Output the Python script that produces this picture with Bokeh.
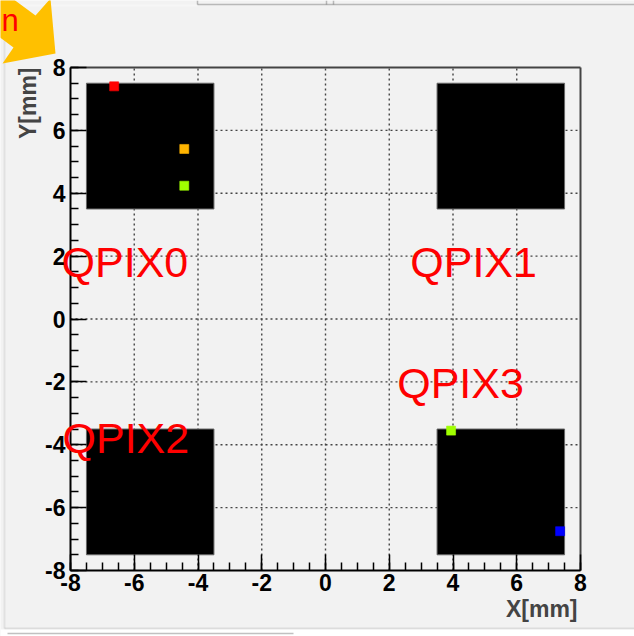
from bokeh.plotting import figure
from bokeh.models import Label, PolyAnnotation, FixedTicker, Range1d
from bokeh.embed import file_html
from bokeh.resources import INLINE
import math

# ---- data ----
pixel_names = ["QPIX0", "QPIX1", "QPIX2", "QPIX3"]
box_left = [-7.5, 3.5, -7.5, 3.5]
box_right = [-3.5, 7.5, -3.5, 7.5]
box_bottom = [3.5, 3.5, -7.5, -7.5]
box_top = [7.5, 7.5, -3.5, -3.5]

label_x = [-8.28, 2.66, -8.25, 2.25]
label_y = [1.80, 1.80, -3.77, -2.05]

hit_x = [-6.63, -4.43, -4.43, 3.94, 7.36]
hit_y = [7.40, 5.41, 4.24, -3.55, -6.75]
hit_color = ["#ff0000", "#ffb400", "#a0ff00", "#a0ff00", "#0000ff"]

ticks = [-8, -6, -4, -2, 0, 2, 4, 6, 8]
tick_labels = ["-8", "-6", "-4", "-2", "0", "2", "4", "6", "8"]
grid_pos = [-6, -4, -2, 0, 2, 4, 6]

# ---- layout: frame covers whole canvas, axes pinned at -8 ----
W, H = 634, 636
FL, FR, FT, FB = 70, 580, 67, 570

def px2x(px):
    return (px - FL) / (FR - FL) * 16 - 8

def py2y(py):
    return 8 - (py - FT) / (FB - FT) * 16

p = figure(width=W, height=H, output_backend="svg", toolbar_location=None,
           x_range=Range1d(px2x(0), px2x(W)), y_range=Range1d(py2y(H), py2y(0)),
           min_border=0)
p.background_fill_color = "#f2f2f2"
p.border_fill_color = "#f2f2f2"
p.outline_line_color = None
p.xgrid.visible = False
p.ygrid.visible = False

for ax in (p.xaxis[0], p.yaxis[0]):
    ax.fixed_location = -8
    ax.bounds = (-8, 8)
    ax.ticker = FixedTicker(ticks=ticks, minor_ticks=[t / 2 for t in range(-16, 17)])
    ax.major_label_overrides = {t: s for t, s in zip(ticks, tick_labels)}
    ax.major_tick_in = 16
    ax.major_tick_out = 0
    ax.minor_tick_in = 8
    ax.minor_tick_out = 0
    ax.major_tick_line_color = "black"
    ax.minor_tick_line_color = "black"
    ax.major_tick_line_width = 1.5
    ax.minor_tick_line_width = 1.5
    ax.axis_line_color = "black"
    ax.axis_line_width = 2
    ax.major_label_text_font = "Liberation Sans"
    ax.major_label_text_font_style = "bold"
    ax.major_label_text_font_size = "23px"
    ax.major_label_text_color = "black"
p.xaxis.major_label_standoff = 3
p.yaxis.major_label_standoff = 5
p.yaxis.major_label_orientation = "horizontal"

# grid (dotted) inside the frame
n = len(grid_pos)
p.segment(x0=grid_pos, y0=[-8] * n, x1=grid_pos, y1=[8] * n,
          line_color="#444444", line_width=1.4, line_dash="2 3")
p.segment(x0=[-8] * n, y0=grid_pos, x1=[8] * n, y1=grid_pos,
          line_color="#444444", line_width=1.4, line_dash="2 3")

# frame top / right
p.segment(x0=[-8, 8], y0=[8, -8], x1=[8, 8], y1=[8, 8],
          line_color="#444444", line_width=2)

# pixel boxes
p.quad(left=box_left, right=box_right, bottom=box_bottom, top=box_top,
       fill_color="black", line_color="#666666", line_width=1)

# hits
p.scatter(hit_x, hit_y, marker="square", size=9, fill_color=hit_color,
          line_color=hit_color, line_alpha=0.6)

# labels
for name, lx, ly in zip(pixel_names, label_x, label_y):
    p.add_layout(Label(x=lx, y=ly, text=name, text_color="#ff0000",
                       text_font="Liberation Sans", text_font_size="43px",
                       text_align="left", text_baseline="alphabetic"))

# axis titles
p.add_layout(Label(x=px2x(577), y=py2y(608), text="X[mm]",
                   text_font="Liberation Sans", text_font_style="bold",
                   text_font_size="23px", text_align="right",
                   text_baseline="alphabetic"))
p.add_layout(Label(x=px2x(27), y=py2y(67), text="Y[mm]", angle=math.pi / 2,
                   text_font="Liberation Sans", text_font_style="bold",
                   text_font_size="23px", text_align="right",
                   text_baseline="middle"))

# canvas decorations (screenshot frame, arrow)
def seg(x0, y0, x1, y1, color, width):
    p.add_layout(PolyAnnotation(xs=[px2x(x0), px2x(x1)], ys=[py2y(y0), py2y(y1)],
                                fill_alpha=0, line_color=color, line_width=width))

seg(4, 40, 4, 628, "#b8b8b8", 2)
seg(4, 628, 634, 628, "#a8a8a8", 2)
p.add_layout(PolyAnnotation(xs=[px2x(0), px2x(634), px2x(634), px2x(0)],
                            ys=[py2y(629), py2y(629), py2y(640), py2y(640)],
                            fill_color="white", fill_alpha=1, line_alpha=0))
seg(7, 633, 293, 633, "#333333", 1.5)
seg(0, 5, 197, 5, "white", 2)
seg(197, 4, 634, 4, "#333333", 1.5)
seg(197, 0, 197, 4, "#333333", 1.5)
seg(326, 0, 326, 4, "#333333", 1.5)
seg(333, 0, 333, 4, "#333333", 1.5)

arrow_px = [(-30, -33), (35, 15), (50, -2), (55, 53), (2, 63), (13, 47), (-52, -1)]
p.add_layout(PolyAnnotation(xs=[px2x(a) for a, b in arrow_px],
                            ys=[py2y(b) for a, b in arrow_px],
                            fill_color="#ffc000", fill_alpha=1, line_alpha=0))
p.add_layout(Label(x=px2x(1), y=py2y(20), text="n", text_color="#ff0000",
                   text_font="Liberation Sans", text_font_size="31px",
                   text_align="left", text_baseline="alphabetic"))

open("out.html", "w").write(file_html(p, INLINE))
